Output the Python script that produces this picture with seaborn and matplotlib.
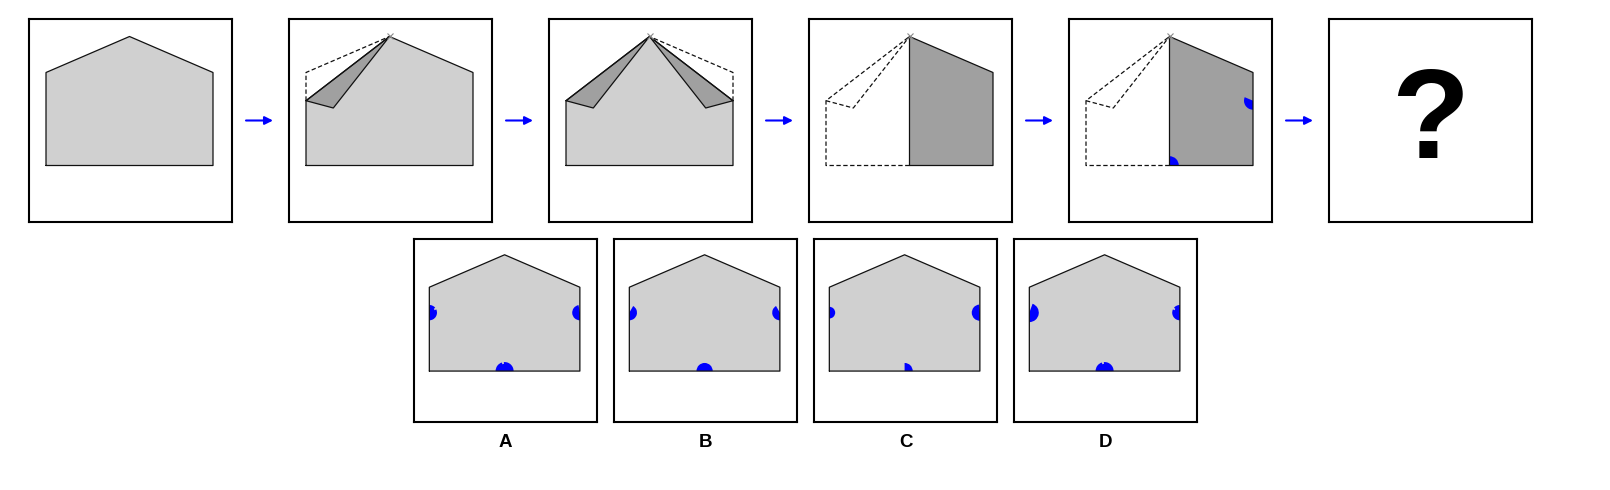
import seaborn as sns
import matplotlib.pyplot as plt
from matplotlib.patches import Wedge

# casa em coordenadas locais (y para cima, caixa 0..203)
house_x = [17, 17, 100.5, 184, 184]
house_y = [56.5, 149.5, 185.5, 149.5, 56.5]
apex = (100.5, 185.5)
base_y = 56.5
shoulder_y = 149.5
left_x, right_x = 17, 184
fold_y = 121.3
flap_tip = (44.3, 114.0)

panel_left = [29, 289, 549, 809, 1069, 1329]
panel_top, panel_size = 19, 203
option_left = [414, 614, 814, 1014]
option_top, option_size = 239, 183
option_labels = ["A", "B", "C", "D"]

# marcas azuis: (lado, raio, ang1, ang2)
step5_marks = [("bottom", 9.3, 0, 90), ("right", 9, 157, 270)]
option_marks = {
    "A": [("left", 6.5, -90, 90), ("left", 8.5, -90, 25), ("left", 8.5, 40, 90),
          ("right", 8.5, 100, 270),
          ("bottom", 8, 0, 180), ("bottom", 10, 0, 95), ("bottom", 10, 108, 180)],
    "B": [("left", 8.5, -90, 60), ("right", 8.5, 120, 270), ("bottom", 9, 0, 180)],
    "C": [("left", 6.5, -90, 90), ("right", 9, 95, 270), ("bottom", 9, 0, 90)],
    "D": [("left", 10.5, -90, 70), ("right", 6.5, 90, 270), ("right", 8.5, 90, 140),
          ("right", 8.5, 155, 270),
          ("bottom", 8, 0, 180), ("bottom", 10, 0, 95), ("bottom", 10, 108, 180)],
}

LIGHT = "#d0d0d0"
DARK = "#a0a0a0"
EDGE = "#111111"


def mx(x):
    return left_x + right_x - x


def outline(ax, pts, dashed=False, close=False):
    if close:
        pts = list(pts) + [pts[0]]
    xs = [p[0] for p in pts]
    ys = [p[1] for p in pts]
    kw = dict(linestyle=(0, (3.5, 2))) if dashed else {}
    sns.lineplot(x=xs, y=ys, sort=False, estimator=None, ax=ax, color=EDGE, lw=0.9, **kw)


def poly(ax, pts, color):
    ax.fill([p[0] for p in pts], [p[1] for p in pts], color=color, lw=0, zorder=1)
    outline(ax, pts, close=True)


def marks(ax, items):
    centers = {"left": (left_x, fold_y), "right": (right_x, fold_y), "bottom": (apex[0], base_y)}
    for side, r, t1, t2 in items:
        ax.add_patch(Wedge(centers[side], r, t1, t2, color="blue", lw=0, zorder=1.5))


def apex_cross(ax):
    ax.plot([apex[0]], [apex[1]], marker="x", color="#888888", ms=5, mew=0.8, zorder=3)


def new_box(fig, left, top, size):
    ax = fig.add_axes([left / 1610, (490 - top - size) / 490, size / 1610, size / 490])
    ax.set_xlim(0, 203)
    ax.set_ylim(0, 203)
    ax.set_xticks([])
    ax.set_yticks([])
    ax.set(xlabel="", ylabel="")
    for s in ax.spines.values():
        s.set_visible(True)
        s.set_linewidth(1.5)
        s.set_color("black")
    return ax


sns.set_theme(style="white")
plt.rcParams["font.family"] = ["Liberation Sans", "DejaVu Sans"]

fig = plt.figure(figsize=(16.1, 4.9), dpi=100)
ov = fig.add_axes([0, 0, 1, 1])
ov.set_xlim(0, 1610)
ov.set_ylim(490, 0)
ov.axis("off")
ov.set_zorder(10)

house = list(zip(house_x, house_y))
bl, br = (left_x, base_y), (right_x, base_y)
fl, fr = (left_x, fold_y), (right_x, fold_y)
tip_l, tip_r = flap_tip, (mx(flap_tip[0]), flap_tip[1])

axes = [new_box(fig, x, panel_top, panel_size) for x in panel_left]

# 1: casa inteira
poly(axes[0], house, LIGHT)

# 2: dobra do lado esquerdo
ax = axes[1]
poly(ax, [bl, fl, apex, (right_x, shoulder_y), br], LIGHT)
poly(ax, [fl, tip_l, apex], DARK)
outline(ax, [fl, (left_x, shoulder_y), apex], dashed=True)
apex_cross(ax)

# 3: dobra dos dois lados
ax = axes[2]
poly(ax, [bl, fl, apex, fr, br], LIGHT)
poly(ax, [fl, tip_l, apex], DARK)
poly(ax, [fr, tip_r, apex], DARK)
outline(ax, [fr, (right_x, shoulder_y), apex], dashed=True)
apex_cross(ax)

# 4 e 5: metade dobrada sobre a direita
for k in (3, 4):
    ax = axes[k]
    poly(ax, [apex, (right_x, shoulder_y), br, (apex[0], base_y)], DARK)
    outline(ax, [(apex[0], base_y), bl, fl, apex], dashed=True)
    outline(ax, [fl, tip_l, apex], dashed=True)
    apex_cross(ax)
marks(axes[4], step5_marks)

# 6: interrogação
ov.text(panel_left[5] + 101.5, 158, "?", fontsize=92, fontweight="bold",
        ha="center", va="baseline", color="black")

# setas
for x in panel_left[:-1]:
    ov.annotate("", xy=(x + 203 + 41, 120.5), xytext=(x + 203 + 14, 120.5),
                arrowprops=dict(arrowstyle="-|>", color="blue", lw=1.5,
                                mutation_scale=12, shrinkA=0, shrinkB=0))

# opções
for x, lab in zip(option_left, option_labels):
    ax = new_box(fig, x, option_top, option_size)
    ax.fill(house_x, house_y, color=LIGHT, lw=0, zorder=1)
    marks(ax, option_marks[lab])
    outline(ax, house, close=True)
    ov.text(x + option_size / 2, 447, lab, fontsize=13.5, fontweight="bold",
            ha="center", va="baseline", color="black")

fig.savefig("out.png", dpi=100)
